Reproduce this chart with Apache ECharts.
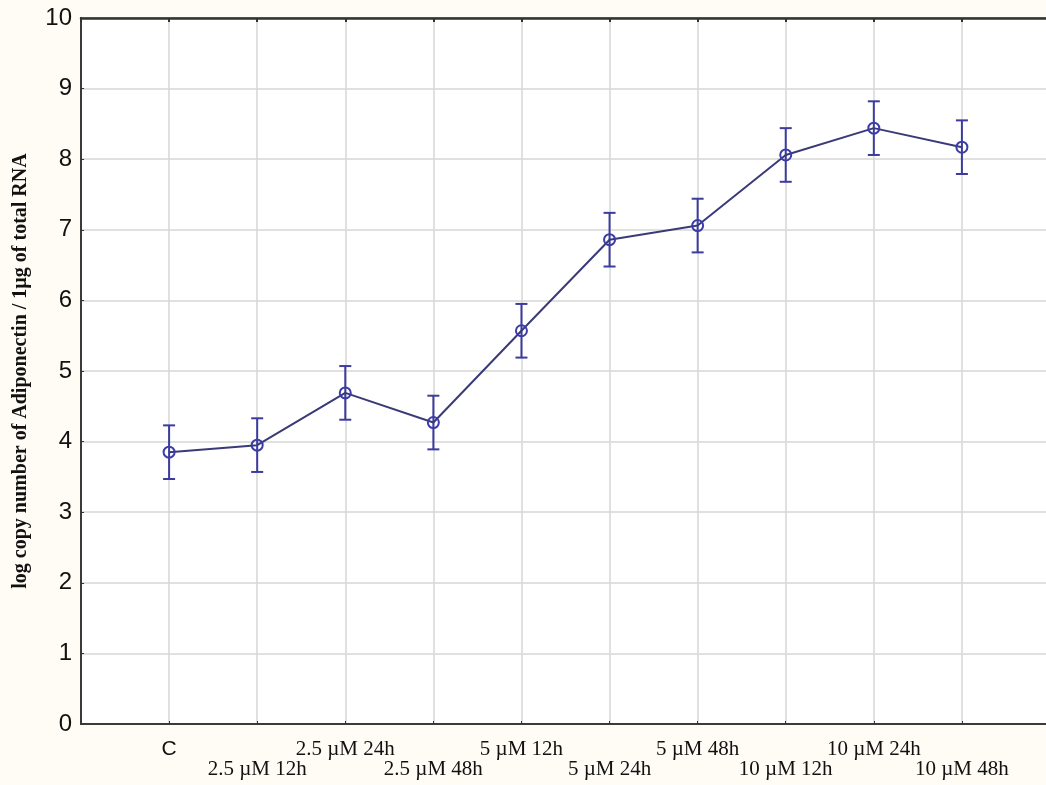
<!DOCTYPE html>
<html><head><meta charset="utf-8">
<script src="https://cdn.jsdelivr.net/npm/echarts@6/dist/echarts.min.js"></script>
<style>html,body{margin:0;padding:0;background:#fffcf5}#c{width:1046px;height:785px}</style>
</head><body><div id="c"></div>
<script>
const categories = ['C','2.5 \u00b5M 12h','2.5 \u00b5M 24h','2.5 \u00b5M 48h','5 \u00b5M 12h','5 \u00b5M 24h','5 \u00b5M 48h','10 \u00b5M 12h','10 \u00b5M 24h','10 \u00b5M 48h'];
const means = [3.85, 3.95, 4.69, 4.27, 5.57, 6.86, 7.06, 8.06, 8.44, 8.17];
const errors = [0.38, 0.38, 0.38, 0.38, 0.38, 0.38, 0.38, 0.38, 0.38, 0.38];
const yTicks = [0,1,2,3,4,5,6,7,8,9,10];

const lineData = means.map((m,i)=>[i+1, m]);
const errData = means.map((m,i)=>[i+1, m-errors[i], m+errors[i]]);

const chart = echarts.init(document.getElementById('c'));
chart.setOption({
  backgroundColor: '#fffcf5',
  animation: false,
  grid: {left: 81, top: 18, width: 969, bottom: 61, outerBoundsMode: 'none', containLabel: false,
    show: true, backgroundColor: '#ffffff', borderColor: '#3a3a3a', borderWidth: 2},
  xAxis: [{
    type: 'value', min: 0, max: 11, interval: 1,
    axisLine: {show: true, lineStyle: {color: '#3a3a3a', width: 2}},
    axisTick: {show: true, inside: true, length: 3, lineStyle: {color: '#333'}},
    splitLine: {show: true, lineStyle: {color: '#d6d6d6', width: 1.5}},
    axisLabel: {
      margin: 15, lineHeight: 20, color: '#111',
      formatter: function(v){
        const i = Math.round(v) - 1;
        if (i < 0 || i >= categories.length) return '';
        if (i === 0) return '{c|' + categories[i] + '}';
        return (i % 2 === 0 ? '' : '\n') + '{t|' + categories[i] + '}';
      },
      rich: {
        c: {fontFamily: 'Liberation Sans, Arial', fontSize: 21, color: '#111', lineHeight: 20},
        t: {fontFamily: 'Liberation Serif, Times New Roman', fontSize: 21, color: '#111', lineHeight: 20}
      }
    }
  }, {
    type: 'value', position: 'top', min: 0, max: 11, interval: 1,
    axisLine: {show: true, lineStyle: {color: '#333333', width: 2.5}},
    axisTick: {show: true, inside: true, length: 4, lineStyle: {color: '#333', width: 2}},
    splitLine: {show: false},
    axisLabel: {show: false}
  }],
  yAxis: {
    type: 'value', min: 0, max: 10, interval: 1,
    name: 'log copy number of Adiponectin / 1\u00b5g of total RNA',
    nameLocation: 'middle', nameGap: 50,
    nameTextStyle: {fontFamily: 'Liberation Serif, Times New Roman', fontWeight: 'bold', fontSize: 20, color: '#111'},
    axisLine: {show: true, lineStyle: {color: '#3a3a3a', width: 2}},
    axisTick: {show: true, inside: true, length: 3, lineStyle: {color: '#333'}},
    splitLine: {show: true, lineStyle: {color: '#d6d6d6', width: 1.5}},
    axisLabel: {margin: 9, fontFamily: 'Liberation Sans, Arial', fontSize: 24, color: '#111',
      formatter: v => yTicks.includes(v) ? String(v) : ''}
  },
  series: [
    {
      type: 'custom',
      data: errData,
      z: 3,
      renderItem: function(params, api){
        const x = api.value(0);
        const lo = api.coord([x, api.value(1)]);
        const hi = api.coord([x, api.value(2)]);
        const w = 6;
        const st = {stroke: '#3c3ca0', lineWidth: 2};
        return {type: 'group', children: [
          {type: 'line', shape: {x1: lo[0], y1: lo[1], x2: hi[0], y2: hi[1]}, style: st},
          {type: 'line', shape: {x1: lo[0]-w, y1: lo[1], x2: lo[0]+w, y2: lo[1]}, style: st},
          {type: 'line', shape: {x1: hi[0]-w, y1: hi[1], x2: hi[0]+w, y2: hi[1]}, style: st}
        ]};
      }
    },
    {
      type: 'line',
      data: lineData,
      z: 4,
      symbol: 'circle', symbolSize: 11,
      lineStyle: {color: '#3a3a78', width: 2},
      itemStyle: {color: 'rgba(0,0,0,0)', borderColor: '#3c3ca8', borderWidth: 2}
    }
  ]
});
</script></body></html>
